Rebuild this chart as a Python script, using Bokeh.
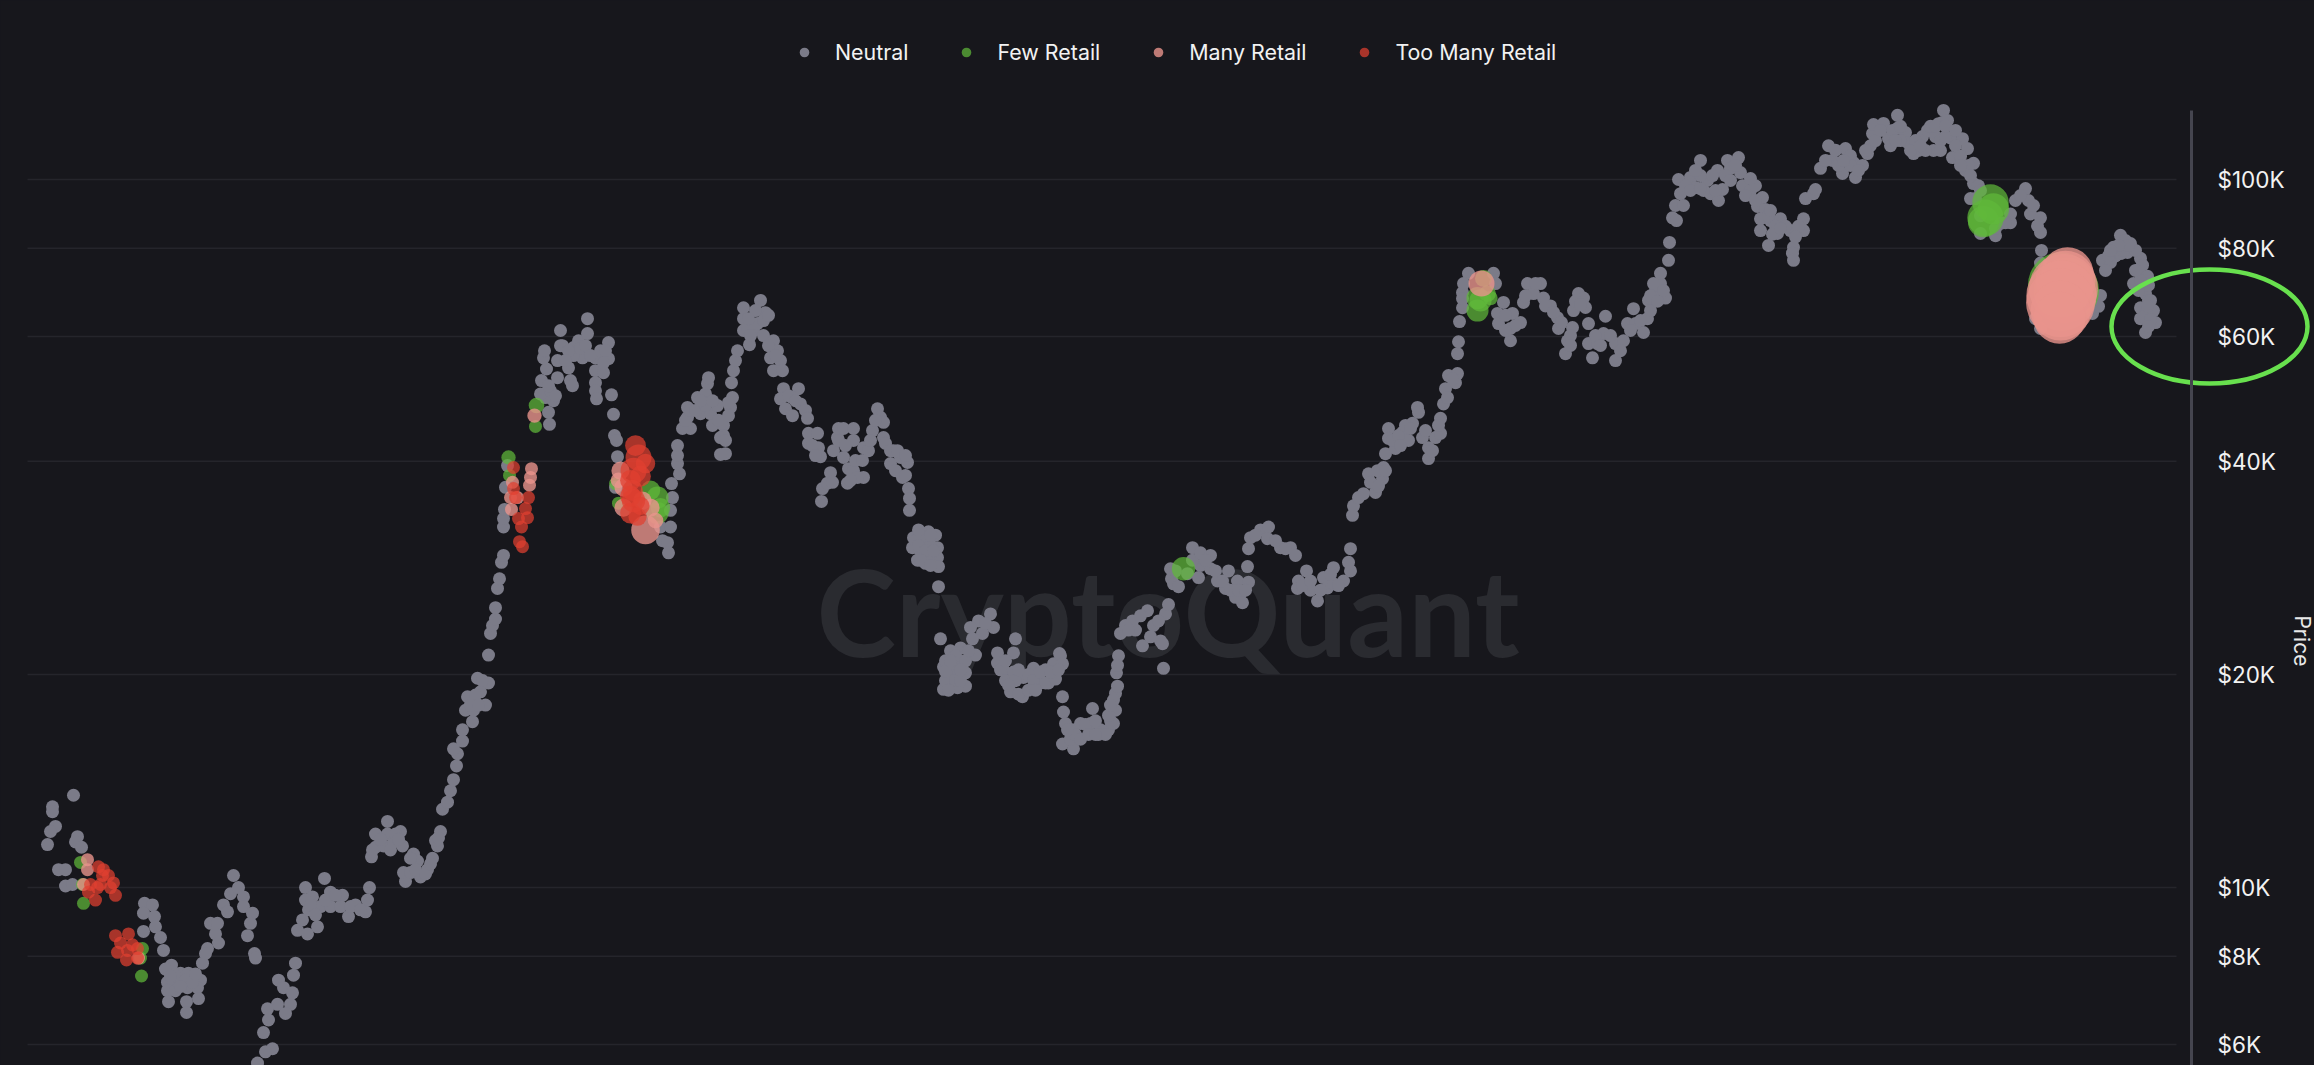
from bokeh.plotting import figure
from bokeh.models import Range1d, LogAxis, FixedTicker, Legend, LegendItem
from bokeh.core.properties import value
from bokeh.embed import file_html
from bokeh.resources import INLINE
import math

# ---------- data (day index, price in $K) ----------
tick_prices = [6, 8, 10, 20, 40, 60, 80, 100]
tick_labels = ["$6K", "$8K", "$10K", "$20K", "$40K", "$60K", "$80K", "$100K"]

d1 = [73,52,52,55,50,47,77,75,81,58,65,65,72,143,144,152,143,154,155,160,163,171,165,180,167,173,188,200,167,187,197,168,186,198,186,202,207,205,210,217,215,218,223,227,230,233,238,243,243,252,250,247,254,255]
p1 = [13.5,13.0,12.8,12.2,12.0,11.5,11.8,11.6,11.4,10.6,10.6,10.05,10.1,8.67,9.5,9.45,9.2,9.1,8.8,8.5,8.15,7.77,7.67,7.57,7.35,7.32,7.57,7.4,7.15,7.22,7.22,6.9,6.9,6.97,6.66,7.82,8.2,8.07,8.9,8.9,8.6,8.35,9.45,9.24,9.8,10.4,10.0,9.7,9.4,9.2,8.9,8.55,8.07,7.95]

d2 = [295,293,278,283,292,290,277,267,285,268,263,272,265,257,297,302,305,312,305,317,307,308,320,324,330,330,342,340,348,355,365,367,369,371,375,375,387,387,400,383,402,393,405,403,413,417,410,420,427,432,437,435,440]
p2 = [7.82,7.52,7.4,7.22,7.1,6.84,6.84,6.74,6.64,6.5,6.24,5.92,5.86,5.65,8.7,9.0,10.0,9.7,9.6,8.8,8.6,9.3,9.4,10.3,9.85,9.4,9.75,9.4,9.1,9.45,9.24,9.6,10.0,11.05,11.4,11.9,12.4,11.9,12.0,11.45,11.45,11.6,10.2,10.5,11.15,10.9,10.5,10.35,10.6,11.0,11.45,11.65,12.0]

d3 = [442,447,450,453,456,457,453,462,462,472,465,473,467,477,488,485,480,488,490,492,495,495,497,499,501,503,503,503,504,505,507,549,548,553,545,540,557,541,546,543,544,560,557,562,568,570,572,573,578,587,587,582,573,595,595,595,595,596,603,600,608,608,611,613,614,616,617,615]
p3 = [12.9,13.2,13.7,14.2,14.85,15.45,15.7,16.1,16.7,17.15,17.8,17.8,18.6,19.75,19.45,18.1,18.9,21.3,22.85,23.45,23.95,24.85,26.45,27.3,28.8,29.45,32.3,33.2,34.2,36.75,39.45,45.1,46.9,48.7,49.2,49.8,52.5,52,54,56,57.3,61.2,55.5,58.25,54.2,52,51.15,57.9,59.2,60.6,63.6,56,56.4,56,53.7,51.65,50.3,49,53.35,57.3,58.85,55.85,49.65,46.6,43.5,42.8,40.6,36.75]

d4 = [660,670,662,667,668,670,672,671,679,677,677,677,690,682,687,697,705,707,708,687,700,710,717,712,723,723,725,720,720,730,732,728,731,733,735,737,749,743,753,743,757,743,747,760,765,763,763,773,777,780,773,782,768,770]
p4 = [32.3,32.3,30.9,30.7,29.7,34.1,35.55,37.2,38.4,39.7,40.75,42.1,44.5,44.5,46.15,49.2,49.8,51.5,52.5,47.65,46.7,46.7,47.95,44.95,44.95,43.5,41,40.9,43.2,47.65,49.2,48.4,51.65,53.7,55.5,57.3,58.45,61.2,61.2,63.6,62.6,65.9,61.6,67.5,64.85,63.2,60.2,59.2,57.3,55.5,53.7,53.7,58.25,56]

d5 = [783,798,780,792,785,800,792,805,807,808,817,808,818,820,821,822,827,830,832,833,837,838,843,843,848,847,853,863,857,853,853,863,868,872,877,880,883,883,885,893,890,900,907,902,908,909,909,913,928,935,912,937,917,925,937,938,923,938]
p5 = [50.65,50.65,49,49.2,47.45,48.2,46.4,47.2,46,43.8,43.8,42.4,41.8,40.6,35.1,36.6,37.25,38.55,37.35,41.4,43.2,44.5,44.5,40.5,39.05,37.25,38.8,37.95,37.95,44.5,42.8,41.8,41.4,44.2,47.45,46.15,45.4,43.2,42.4,41.4,39.7,40.5,39.85,37.95,36.6,35.45,34.1,31.2,31.8,31.45,30.2,30.2,29,28.7,29.25,28.4,30.6,26.6]

d6 = [940,990,978,993,970,982,972,975,960,950,960,943,953,965,950,965,943,957,1015,1013,997,997,1003,1013,1010,1023,1022,1033,1040,1048,1053,1060,1059,1062,1052,1045,1062,1063,1065,1062,1073,1072,1080,1092,1090,1100,1108,1115,1115,1116,1118,1103,1113]
p6 = [22.45,24.35,23.8,23.3,23.3,22.85,22.45,21.3,21.8,21.6,20.9,20.5,20.3,20.1,19.6,19.25,19.05,19.15,22.45,21.45,21.45,20.75,20.3,20.15,18.9,19.8,18.6,20.4,19.45,19.45,20.7,21.25,21.4,20.7,20.15,19.45,18.6,17.7,17.05,15.95,15.7,16.7,17.05,17.9,17.05,16.7,16.7,17.8,18.8,20.1,21.25,16.6,17.05]

d7 = [1120,1132,1135,1142,1147,1153,1160,1162,1163,1165,1168,1171,1170,1173,1187,1200,1192,1192,1200,1210,1198,1210,1217,1228,1237,1225,1240,1248,1242,1235,1247,1248,1250,1260,1268,1267,1280,1290,1295,1306,1298,1297,1310,1317,1323,1327,1333,1333,1343,1348,1350]
p7 = [22.85,23.8,23.1,21.95,24.6,23.45,22.3,22.1,20.4,24.35,25.1,27.3,28.2,26.85,27.75,28.5,29,30.2,29.7,29.45,27.4,28.2,27.1,28,27.1,26.45,26,27,25.25,25.7,28.4,30.1,31.2,32,32.3,31.1,30.2,30.2,29.45,28,27.1,26.45,26.3,25.4,27.4,26.5,28.3,26.85,27.1,28.8,30.1]

d8 = [1352,1353,1363,1375,1368,1382,1383,1385,1388,1388,1402,1408,1412,1395,1417,1418,1422,1428,1428,1435,1440,1440,1443,1445,1448,1457,1455,1457,1458,1459,1462,1462,1468,1493,1495,1503,1497,1498,1512,1510,1510,1520,1523,1527,1533,1540,1543,1550,1557,1558,1572,1567,1565,1573,1578,1585,1583,1588,1588,1592,1597,1603,1605,1615,1615,1623,1627,1633,1635,1643,1647,1648,1655,1665,1660,1660]
p8 = [33.55,34.6,36,36.15,38.4,37.8,39.2,41,44.5,43.1,43.95,42.8,45.25,41.7,47.65,46.9,43.2,41.8,40.35,43.2,43.8,46,48.2,50.65,52.85,53.2,51.65,56.75,59,63,65.9,69.25,73.7,73.7,71.3,67.05,64.7,62.6,64.7,59.2,61.6,62.8,67.05,71.3,69,71.3,68,66.3,63.8,61.6,61.8,59.2,56.75,65.3,69,65.95,68,62.6,58.65,56,58.65,60.6,64.1,58.65,55.5,59.2,62.6,65.7,62.6,60.8,63.6,67.5,69.7,68,71.3,73.7]

d9 = [1668,1669,1672,1675,1680,1678,1690,1700,1695,1707,1710,1718,1722,1717,1727,1738,1740,1730,1742,1750,1755,1762,1757,1765,1760,1760,1770,1768,1780,1777,1790,1803,1803,1793,1792,1793,1805,1813,1815,1820,1828,1832,1842,1845,1853,1855,1867,1872,1870,1873,1883,1888,1897,1897,1905,1907,1913,1922,1933,1927,1943,1942,1952,1950,1962,1967,1965,1973,1973,1975,1938,1947]
p9 = [76.9,81.5,88.3,91.9,95.5,100,100.7,106.4,97.4,99.7,95.5,93.4,96.8,103,106.4,107.4,102.3,103.7,98,96.5,98,94.3,91.6,90.7,88,84.7,87.5,80.7,88,83.9,84.7,88,84.7,80.2,78.7,76.9,94,95.5,96.8,103.7,111.6,106.4,102,110.6,105.7,100.7,108.8,116.1,111.6,119.6,120,114.2,123.2,118.1,116.5,112.8,108.8,115,109.9,117.3,125.2,120.4,107.4,114.5,114.2,110.6,103,105.4,98.7,94,119.9,121.2]

d10 = [1980,1995,2000,2010,2010,2015,2025,2028,2030,2040,2040,2041,2040,2035,2040,2092,2100,2098,2102,2110,2113,2115,2120,2120,2127,2130,2137,2140,2145,2133,2145,2148,2148,2140,2153,2140,2155,2145]
p10 = [83.9,83.3,86.7,89.4,86.9,93.4,97.1,93.4,89.4,88.3,84.2,79.4,76.2,63.6,61.6,64.7,68.6,66.2,76.9,76.4,80.2,78,83.4,78.6,78.9,81.2,74.4,77.4,72.7,71.3,69,70.9,67.5,65.9,65.3,63.6,62.8,60.8]

d11 = [1685,1683,1676,1700,1695,1712,1703,1725,1735,1750,1745,1768,1775,1785,1798,1772,1825,1838,1850,1862,1875,1880,1892,1900,1915,1918,1925,1935,1940,1945,1955,1960,1968,1978,1970,1980,1980,1995,2005,2020,2033,2037]
p11 = [98,91.9,87.5,101.3,103,101.3,96.5,101.3,104.7,100.3,94.9,88.9,85.9,85.9,85.9,83.7,106.4,104.7,108,104.7,113.5,117.3,117.3,113.5,113.5,109.9,109.9,115,113.5,115,111.6,107.9,104.7,98,94,96.5,88.9,85.3,86.9,94.9,91.9,86]

d12 = [2105,2108,2125,2135,2142,2147,2140,2123,2138,2150,2143,2150,2148]
p12 = [74.4,78,82,79.4,75.7,73,72,79.4,69.7,67.5,64,63.4,62]

d13 = [1505,1515,1505,1525,1535,1545,1553,1561,1570,1570,1575,1580,1595,1600,1610,1620,1630,1640,1650,1650,1657,1653,1663,1358,1370,1378,1377,1385,1392,1398,1405,1400,1410,1425,1432,1438,1447,1452,1462,1463]
p13 = [64.3,62.2,61.2,68.5,71.3,66.3,64.9,62.8,60.2,58.3,67.3,66.6,60.2,58.3,60.2,57.3,61.2,63.2,65.3,68.5,67.3,71.3,69.7,35.55,37.35,36.9,38.8,38.8,42.8,43.5,44.95,42.1,44.5,44.2,41.4,44.95,49.2,52.3,67.9,71.3]

d14 = [1125,1128,1140,1150,1158,1205,1215,1222,1230,1238,1245,1255,1275,1285,1302,1310,1320,1330,1338,1350,1175,1178]
p14 = [23.45,23.1,24.2,22.6,23.8,29,28,27.1,26.3,26.3,26.3,31.45,30.9,30.1,26.7,27.1,26.3,27.7,26.7,28,28,26.6]

d15 = [955,945,950,958,945,965,968,985,1000,1005,1015,1018,1028,1033,1045,1055,1070,1075,1085,1095,1098,1105,1110,1113,1117]
p15 = [21.25,20.9,20.6,20,19.6,20.9,21.6,23.6,20.3,19.6,19.6,18.75,20,19.6,20.3,19.7,16.2,16.45,17,17.2,16.45,16.45,17.2,18.4,20.6]

d16 = [788,795,812,815,838,845,855,862,870,875,850,890,897,895,905,905,920,930,925,930,915,918]
p16 = [49.5,48.7,42.1,40.75,42.8,42.1,40.1,40.1,42.8,45.7,37.6,41.4,41.4,38.8,38.2,40.75,29.9,30.4,31.45,29.5,30.9,32]

d17 = [755,768,775,748,750,550,555,548,560,568,580,565,585,590,605,603,685,690,695,705,712,700,718,728,725]
p17 = [65.3,64.3,56.4,63.6,60.2,50.3,49.5,51.15,58.25,57.3,57.7,55.5,58.25,56.4,57.3,55.1,45.7,47.2,47.2,47.95,48.7,48.7,45.7,46.4,42.8]

d18 = [310,315,325,335,350,360,372,380,395,390,398,410,415,425,430,438,175,185,192,175,180,195,170,475,482,470,478]
p18 = [9.45,9.15,9.6,9.75,9.4,9.3,11.3,11.7,11.9,11.3,11.7,11,10.6,10.45,10.8,11.75,7.5,7.4,7.35,7.15,7.25,7.55,7.5,18.7,19.6,18.1,18.1]

d19 = [945,955,960,950,948,960,1005,1008,1018,1028,1035,1040,1050,1058,1067,1080,1088,1095,1108,1110,1117,918,925,930,933,920,930,1890,1900,1910,1920,1930,1935,1945,1955,1960,1970,1940,1895,1850,1858,1865,1843,1835,1770,1780,1795,1755,1690,1700,1715,1730,2147,2135,2128,2118,2110]
p19 = [20.2,19.6,19.6,20.9,19,20.3,20.9,19.3,20.3,19,19,20.15,20.15,20.3,16.7,16.2,16.45,16.45,17.5,18.1,19.25,30.4,29.9,31.45,29.9,29,28.5,111.6,118.9,109.9,111.6,118.9,118.9,119,117.3,104.7,101.3,109.9,113.5,104.7,103,109.9,106.4,110,90.4,85.3,83,93.4,96.5,97.1,96.5,99.7,66.3,74.4,80.7,80.7,79.4]

few_day = [80,82,83,141,142,140,536,535,508,509,657,657,650,660,615,618,1183,1477,1477,1480,1487,1483,1490,1990,1985,1983,1993,2060,2066]
few_price = [10.85,10.1,9.5,7.5,8.2,7.95,47.95,44.8,40.5,38.2,35.55,33.8,36.4,34.4,37.2,34.9,28.2,65.3,68,67.5,69,72.5,68,92.8,88.3,87.2,90.9,71,69.7]
few_weight = [1,1,1,1,1,1,1.2,1,1.1,1,1.7,1.7,1.5,1.5,1,1,1.8,1.7,1.7,1.7,1.3,1.3,1.1,2.8,2.8,2.4,2.4,5,5]

many_day = [87,87,83,138,534,531,530,529,512,510,517,511,620,618,623,623,650,645,642,655,1481,2067,2065,2063,2061,2060,2060,2059]
many_price = [10.95,10.6,10.1,7.95,46.4,39.05,37.95,37,37.35,35.55,35.55,34.2,38.8,37.6,36.75,34.4,34.4,32,35.2,33,71.3,73.7,72,70.2,68.6,67,65.3,63.8]
many_weight = [1,1,1,1,1.1,1,1,1,1,1,1,1,1.4,1.2,1.4,1.4,1.4,2.2,1.4,1.2,2,4,4.6,5.3,5.4,5.3,4.6,4]

toomany_day = [98,103,108,113,115,102,97,90,95,88,100,110,115,128,120,132,117,127,137,126,137,513,513,515,528,525,527,518,521,519,522,638,633,640,630,632,633,630,637,645,635,630,640]
toomany_price = [10.7,10.6,10.4,10.15,9.75,10.4,10,10.1,9.6,9.85,10.1,10,8.55,8.6,8.35,8.3,8.1,8.15,7.95,7.9,8.2,39.2,36.6,35.55,35.55,34.3,33.3,33.2,32.3,30.8,30.3,40.5,38.8,38.1,37.6,36.4,35.2,33.8,33.4,39.7,42.1,35.7,34.6]
toomany_weight = [1]*31 + [2,2,1.6,1.6,1.6,1.8,1.6,1.4,1.5,1.6,1.6,1.4]

series_names = ["Neutral", "Few Retail", "Many Retail", "Too Many Retail"]
neutral_day = d1+d2+d3+d4+d5+d6+d7+d8+d9+d10+d11+d12+d13+d14+d15+d16+d17+d18+d19
neutral_price = p1+p2+p3+p4+p5+p6+p7+p8+p9+p10+p11+p12+p13+p14+p15+p16+p17+p18+p19

BG = "#17171c"
DOT = 13

p = figure(width=2314, height=1065, output_backend="svg", toolbar_location=None,
           x_range=Range1d(0, 2314), y_range=Range1d(5606, 179000),
           y_axis_type="log", x_axis_location=None, y_axis_location=None,
           background_fill_color=BG, border_fill_color=BG,
           min_border=0, outline_line_color=None)
p.grid.visible = False

ticks = [v * 1000 for v in tick_prices]
p.segment(x0=[27]*len(ticks), x1=[2176]*len(ticks), y0=ticks, y1=ticks,
          line_color="#25252b", line_width=1.5)

p.text(x=[816], y=[24600], text=["CryptoQuant"], text_font=value("Lato"), text_font_style="bold",
       text_font_size="120px", text_color="#2a2b30", text_baseline="alphabetic",
       text_align="left")

r1 = p.scatter(neutral_day, [v*1000 for v in neutral_price], size=DOT,
               fill_color="#7b7b88", line_color=None)
r2 = p.scatter(few_day, [v*1000 for v in few_price], size=[w*DOT for w in few_weight],
               fill_color="#60b93a", fill_alpha=0.72, line_color=None)
r3 = p.scatter(many_day, [v*1000 for v in many_price], size=[w*DOT for w in many_weight],
               fill_color="#e9948c", fill_alpha=0.8, line_color=None)
r4 = p.scatter(toomany_day, [v*1000 for v in toomany_price], size=[w*DOT for w in toomany_weight],
               fill_color="#e04030", fill_alpha=0.72, line_color=None)

axis = LogAxis(fixed_location=2191, ticker=FixedTicker(ticks=ticks, minor_ticks=[]),
               major_label_overrides={t: l for t, l in zip(ticks, tick_labels)},
               bounds=(5606, 125200),
               axis_line_color="#45454f", axis_line_width=3,
               major_tick_line_color=None, minor_tick_line_color=None,
               major_tick_out=0, major_tick_in=0, major_label_standoff=26,
               major_label_text_font="Inter", major_label_text_font_size="22.5px",
               major_label_text_color="#f2f2f2")
p.add_layout(axis, "right")

p.ellipse(x=[2209], y=[62000], width=[196], height=[114], width_units="screen", height_units="screen",
          fill_color=None, line_color="#68e04e", line_width=4.5)

p.text(x=[2289], y=[22300], text=["Price"], angle=[-math.pi/2], text_font=value("Inter"),
       text_font_size="21px", text_color="#e8e8e8", text_align="center", text_baseline="bottom")

legend = Legend(items=[LegendItem(label=n, renderers=[r]) for n, r in zip(series_names, [r1, r2, r3, r4])],
                orientation="horizontal", location=(792, 1000),
                background_fill_alpha=0, border_line_color=None, padding=0, margin=0,
                glyph_width=24, glyph_height=24, label_standoff=19, spacing=46,
                label_text_font="Inter", label_text_font_size="21.4px", label_text_color="#f2f2f2")
p.add_layout(legend, "center")

html = file_html(p, INLINE)
html = html.replace("<head>", "<head><style>html,body{margin:0;background:#17171c;overflow:hidden}</style>", 1)
open("out.html", "w").write(html)
